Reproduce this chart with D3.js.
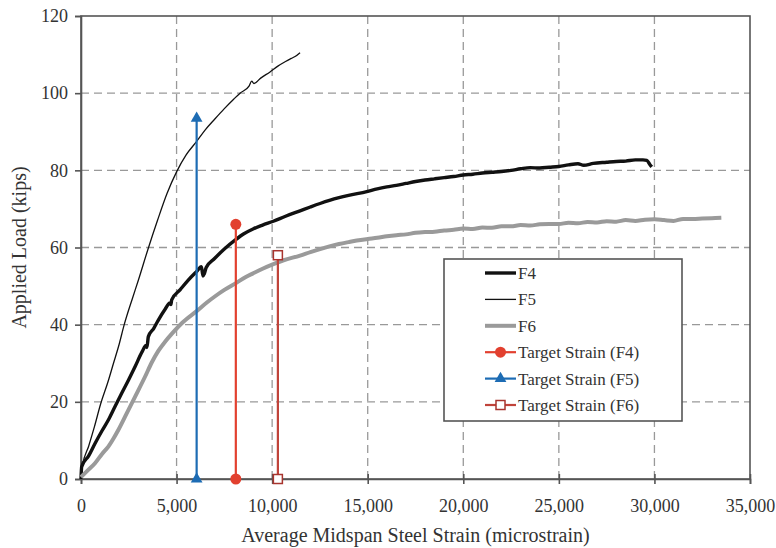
<!DOCTYPE html>
<html>
<head>
<meta charset="utf-8">
<script src="https://cdn.jsdelivr.net/npm/d3@7/dist/d3.min.js"></script>
<style>
    body { margin: 0; background: #fff; }
    #chart { width: 776px; height: 548px; }
    svg text { font-family: "Liberation Serif", "Times New Roman", serif; fill: #333; }
    .axis text { font-size: 18px; }
    .axis path, .axis line { stroke: #555; stroke-width: 1.6; }
    .grid line { stroke: #999; stroke-width: 1.3; stroke-dasharray: 8 5; }
</style>
</head>
<body>
<div id="chart"></div>
<script>
// axis ticks
const strainTicks = [0, 5000, 10000, 15000, 20000, 25000, 30000, 35000];
const loadTicks = [0, 20, 40, 60, 80, 100, 120];

// F4 (thick black)
const f4Strain = [0, 35, 400, 733, 1100, 1430, 1800, 2128, 2500, 2826, 3200, 3400, 3450, 3523, 3800, 4046, 4400, 4650, 4700, 4745,
    5180, 5600, 6054, 6300, 6380, 6450, 6550, 7000, 7500, 8058, 8500, 9000, 9500, 10063, 10700, 11460, 12000, 12507,
    13000, 13500, 14000, 14950, 15500, 16000, 16500, 17000, 17500, 18000, 18500, 19000, 19500, 20000, 20500, 21000,
    21500, 22000, 22500, 23000, 23500, 24000, 24500, 25000, 25500, 26000, 26300, 26800, 27500, 28000, 28500, 29000,
    29400, 29600, 29750, 29860];
const f4Load = [0, 3.2, 6, 9.2, 12.5, 15.3, 19, 22.2, 25.8, 29.1, 33, 34.6, 34.1, 36.9, 39, 41.2, 44, 45.6, 45.2, 46.4,
    49, 51.5, 53.8, 55, 52.6, 53.2, 54.8, 57.2, 59.6, 61.9, 63.5, 64.8, 65.8, 66.8, 68.1, 69.5, 70.5, 71.4,
    72.2, 72.9, 73.5, 74.5, 75.2, 75.7, 76.1, 76.6, 77.1, 77.5, 77.8, 78.1, 78.4, 78.8, 79.0, 79.3,
    79.5, 79.7, 80.0, 80.4, 80.7, 80.6, 80.8, 81.0, 81.4, 81.7, 81.3, 81.8, 82.1, 82.3, 82.4, 82.7,
    82.7, 82.6, 81.6, 80.9];

// F5 (thin black)
const f5Strain = [0, 80, 400, 700, 1030, 1400, 1700, 2000, 2250, 2690, 3000, 3500, 4000, 4500, 5000, 5500, 6050,
    6500, 7000, 7500, 8000, 8320, 8800, 8930, 9050, 9400, 9890, 10300, 10700, 11000, 11200, 11460];
const f5Load = [0, 3.5, 8.5, 13.5, 19.5, 25, 30, 35, 39.8, 46.8, 51.5, 59.5, 67, 74, 79.6, 84, 87.5,
    90.5, 93.3, 96, 98.5, 100, 101.9, 103.1, 102.5, 103.9, 105.5, 107, 108.2, 109, 109.5, 110.5];

// F6 (grey)
const f6Strain = [0, 300, 733, 1100, 1430, 1700, 1952, 2391, 2826, 3349, 3700, 4046, 4400, 4745, 5300, 6050, 6600, 7000,
    7500, 8150, 8600, 9000, 9500, 10063, 10600, 11460, 12000, 12507, 13000, 13500, 14000, 14427, 15000, 15500,
    16000, 16500, 17000, 17500, 18000, 18500, 19000, 19500, 20000, 20500, 21000, 21500, 22000, 22500, 23000,
    23500, 24000, 24500, 25000, 25500, 26000, 26500, 27000, 27500, 28000, 28500, 29000, 29500, 30000, 30500,
    31000, 31500, 32000, 32500, 33000, 33500];
const f6Load = [0.5, 2, 4.1, 6.5, 8.4, 10.5, 12.7, 17, 21.3, 26.5, 30.2, 33.2, 35.6, 37.6, 40.5, 43.5, 45.8, 47.3,
    49, 50.9, 52.3, 53.3, 54.5, 55.7, 56.7, 57.9, 58.8, 59.6, 60.3, 60.9, 61.4, 61.8, 62.2, 62.5,
    62.9, 63.2, 63.4, 63.8, 64.0, 64.1, 64.4, 64.6, 64.9, 64.8, 65.2, 65.1, 65.5, 65.5, 65.8,
    65.7, 66.0, 66.1, 66.1, 66.4, 66.3, 66.6, 66.5, 66.8, 66.7, 67.1, 66.9, 67.2, 67.3, 67.1,
    66.9, 67.4, 67.4, 67.5, 67.6, 67.7];

// target strain markers
const targetLabels = ["Target Strain (F4)", "Target Strain (F5)", "Target Strain (F6)"];
const targetStrain = [8100, 6050, 10300];
const targetLoad = [66, 93.5, 58];

const seriesLabels = ["F4", "F5", "F6"];

class StrainChart {
    constructor(parentElement) {
        this.parentElement = parentElement;
        this.initVis();
    }

    initVis() {
        let vis = this;

        vis.margin = {top: 16, right: 26, bottom: 69, left: 81};
        vis.width = 776 - vis.margin.left - vis.margin.right;
        vis.height = 548 - vis.margin.top - vis.margin.bottom;

        vis.svg = d3.select("#" + vis.parentElement).append("svg")
            .attr("width", 776)
            .attr("height", 548)
            .append("g")
            .attr("transform", `translate(${vis.margin.left}, ${vis.margin.top})`);

        vis.x = d3.scaleLinear().domain([0, 35000]).range([0, vis.width]);
        vis.y = d3.scaleLinear().domain([0, 120]).range([vis.height, 0]);

        vis.xAxis = d3.axisBottom(vis.x)
            .tickValues(strainTicks)
            .tickFormat(d3.format(","))
            .tickSize(5)
            .tickPadding(15);

        vis.yAxis = d3.axisLeft(vis.y)
            .tickValues(loadTicks)
            .tickSize(6)
            .tickPadding(7);

        // styles per series
        vis.lineStyle = {
            F4: {color: "#111", width: 3.4},
            F5: {color: "#111", width: 1.3},
            F6: {color: "#9a9a9a", width: 4}
        };
        vis.targetStyle = [
            {color: "#e2402f", marker: "circle"},
            {color: "#1d6cb4", marker: "triangle"},
            {color: "#c0433a", marker: "square"}
        ];

        this.wrangleData();
    }

    wrangleData() {
        let vis = this;

        vis.series = [
            {name: "F4", values: f4Strain.map((s, i) => ({strain: s, load: f4Load[i]}))},
            {name: "F5", values: f5Strain.map((s, i) => ({strain: s, load: f5Load[i]}))},
            {name: "F6", values: f6Strain.map((s, i) => ({strain: s, load: f6Load[i]}))}
        ];

        vis.targets = targetLabels.map((label, i) => ({
            label: label, strain: targetStrain[i], load: targetLoad[i], style: vis.targetStyle[i]
        }));

        vis.updateVis();
    }

    drawMarker(sel, style, cx, cy) {
        if (style.marker === "circle") {
            sel.append("circle").attr("cx", cx).attr("cy", cy).attr("r", 5.5)
                .attr("fill", style.color);
        } else if (style.marker === "triangle") {
            sel.append("path").attr("d", d3.symbol(d3.symbolTriangle, 60)())
                .attr("transform", `translate(${cx}, ${cy})`)
                .attr("fill", style.color);
        } else {
            sel.append("rect").attr("x", cx - 4.5).attr("y", cy - 4.5)
                .attr("width", 9).attr("height", 9)
                .attr("fill", "#fff").attr("stroke", "#a8342e").attr("stroke-width", 1.5);
        }
    }

    updateVis() {
        let vis = this;

        // grid
        vis.svg.append("g").attr("class", "grid")
            .selectAll("line.v")
            .data(strainTicks.filter(d => d > 0 && d < 35000))
            .enter().append("line")
            .attr("x1", d => vis.x(d)).attr("x2", d => vis.x(d))
            .attr("y1", 0).attr("y2", vis.height);

        vis.svg.append("g").attr("class", "grid")
            .selectAll("line.h")
            .data(loadTicks.filter(d => d > 0 && d < 120))
            .enter().append("line")
            .attr("x1", 0).attr("x2", vis.width)
            .attr("y1", d => vis.y(d)).attr("y2", d => vis.y(d));

        // frame
        vis.svg.append("rect")
            .attr("width", vis.width).attr("height", vis.height)
            .attr("fill", "none").attr("stroke", "#555").attr("stroke-width", 1.6);

        vis.svg.append("g")
            .attr("class", "x-axis axis")
            .attr("transform", "translate(0," + vis.height + ")")
            .call(vis.xAxis)
            .call(g => g.selectAll(".tick line").attr("y1", -5));

        vis.svg.append("g")
            .attr("class", "y-axis axis")
            .call(vis.yAxis);

        // curves
        let line = d3.line()
            .curve(d3.curveMonotoneX)
            .x(d => vis.x(d.strain))
            .y(d => vis.y(d.load));

        vis.svg.selectAll(".curve")
            .data(vis.series)
            .enter().append("path")
            .attr("class", "curve")
            .attr("d", d => line(d.values))
            .attr("fill", "none")
            .attr("stroke", d => vis.lineStyle[d.name].color)
            .attr("stroke-width", d => vis.lineStyle[d.name].width)
            .attr("stroke-linejoin", "round");

        // target strain stems
        vis.targets.forEach(t => {
            let g = vis.svg.append("g");
            g.append("line")
                .attr("x1", vis.x(t.strain)).attr("x2", vis.x(t.strain))
                .attr("y1", vis.y(0)).attr("y2", vis.y(t.load))
                .attr("stroke", t.style.color).attr("stroke-width", 2.2);
            vis.drawMarker(g, t.style, vis.x(t.strain), vis.y(0));
            vis.drawMarker(g, t.style, vis.x(t.strain), vis.y(t.load));
        });

        // axis titles
        vis.svg.append("text")
            .attr("x", vis.width / 2)
            .attr("y", vis.height + 63)
            .attr("text-anchor", "middle")
            .style("font-size", "20px")
            .text("Average Midspan Steel Strain (microstrain)");

        vis.svg.append("text")
            .attr("transform", `translate(${-55}, ${vis.height / 2}) rotate(-90)`)
            .attr("text-anchor", "middle")
            .style("font-size", "20px")
            .text("Applied Load (kips)");

        // legend
        let legend = vis.svg.append("g")
            .attr("transform", `translate(${444 - vis.margin.left}, ${259 - vis.margin.top})`);

        legend.append("rect")
            .attr("width", 238).attr("height", 162)
            .attr("fill", "#fff").attr("stroke", "#555").attr("stroke-width", 1.6);

        let rows = seriesLabels.map(n => ({label: n, line: vis.lineStyle[n]}))
            .concat(vis.targets.map(t => ({label: t.label, target: t.style})));

        rows.forEach((r, i) => {
            let cy = 14 + i * 26.4;
            let row = legend.append("g");
            row.append("line")
                .attr("x1", 41).attr("x2", 72)
                .attr("y1", cy).attr("y2", cy)
                .attr("stroke", r.line ? r.line.color : r.target.color)
                .attr("stroke-width", r.line ? r.line.width : 2.2);
            if (r.target) vis.drawMarker(row, r.target, 56.5, cy);
            row.append("text")
                .attr("x", 74).attr("y", cy)
                .attr("dy", "0.35em")
                .style("font-size", "17px")
                .text(r.label);
        });
    }
}

new StrainChart("chart");
</script>
</body>
</html>
